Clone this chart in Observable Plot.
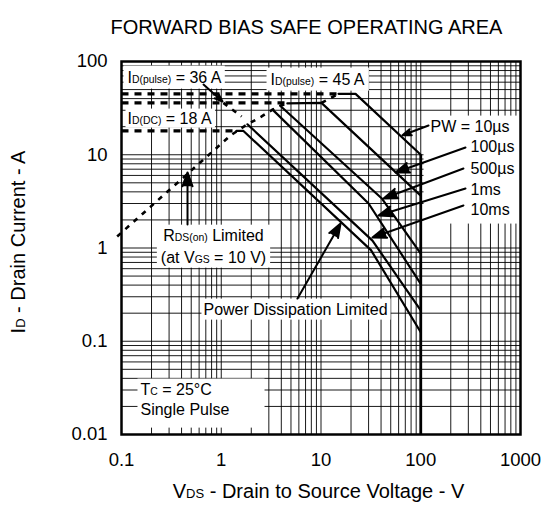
<!DOCTYPE html>
<html><head><meta charset="utf-8">
<script src="https://cdn.jsdelivr.net/npm/d3@7"></script>
<script src="https://cdn.jsdelivr.net/npm/@observablehq/plot@0.6"></script>
<style>body{margin:0;background:#fff;}</style>
</head><body><div id="chart"></div>
<script>
// ---- data ----
const xTicks = [0.1, 1, 10, 100, 1000];
const yTicks = [0.01, 0.1, 1, 10, 100];
const gridSteps = [1, 2, 3, 4, 5, 6, 7, 8, 9];
const xDecades = [0.1, 1, 10, 100];
const yDecades = [0.01, 0.1, 1, 10];

// SOA curves (V, A)
const curveNames = ["10µs", "100µs", "500µs", "1ms", "10ms", "DC"];
const curveV = [
  [15, 22.2, 100],
  [4.6, 10.1, 100],
  [3.9, 41, 100],
  [3.27, 30, 100],
  [1.83, 32.8, 100],
  [1.42, 1.67, 31.7, 100]
];
const curveI = [
  [45, 45, 10],
  [35.5, 36, 3.64],
  [33.5, 3.37, 0.87],
  [30.5, 3.0, 0.413],
  [21.2, 1.2, 0.214],
  [18, 18, 0.95, 0.125]
];
// drain-source breakdown limit
const bvV = [100, 100];
const bvI = [10, 0.01];

// current limits (dashed)
const limitNames = ["ID(pulse)=45A", "ID(pulse)=36A", "ID(DC)=18A"];
const limitI = [45, 36, 18];
const limitVStart = [0.1, 0.1, 0.1];
const limitVEnd = [15, 4.6, 1.42];

// RDS(on) limit (dashed)
const rdsSegs = ["rds", "rds", "rds", "rds", "rds", "rds", "rds", "link", "link", "lead", "lead"];
const rdsV = [0.0905, 1.24, 1.75, 2.5, 3.27, 3.9, 4.6, 10.1, 15, 1.05, 1.6];
const rdsI = [1.33, 16.1, 20.6, 25.5, 30.5, 33.5, 35.5, 36, 45, 36, 25.7];

// annotation arrows
const arrowX1 = [0.664, 0.459, 5.81, 119.7, 281, 268, 281, 268];
const arrowY1 = [56.6, 1.79, 0.287, 20.6, 11.97, 7.12, 4.35, 2.86];
const arrowX2 = [1.03, 0.459, 15.7, 65.6, 55.8, 42.4, 37.7, 32.8];
const arrowY2 = [37.2, 6.46, 1.83, 16.2, 6.46, 3.40, 2.23, 1.296];

// annotation labels
const startLabels = ["I{D(pulse)} = 36 A", "I{D(pulse)} = 45 A", "I{D(DC)} = 18 A", "PW = 10µs", "100µs", "500µs", "1ms", "10ms", "T{C} = 25°C", "Single Pulse"];
const startV = [0.1148, 3.12, 0.1148, 125.3, 315.6, 315.6, 315.6, 315.6, 0.155, 0.155];
const startI = [67.4, 64.1, 24.5, 20.1, 12.26, 7.12, 4.24, 2.59, 0.0304, 0.01854];
const startBox = ["b36", "b45", "b18", "bPW", "bPW", "bPW", "bPW", "bPW", "bTC", "bTC"];
const midLabels = ["R{DS(on)} Limited", "(at V{GS} = 10 V)", "Power Dissipation Limited"];
const midV = [0.836, 0.836, 5.55];
const midI = [1.36, 0.791, 0.219];
const midBox = ["bRDS", "bRDS", "bPD"];

const title = "FORWARD BIAS SAFE OPERATING AREA";
const xLabel = "V{DS} - Drain to Source Voltage - V";
const yLabel = "I{D} - Drain Current - A";

// ---- build tables ----
const gridX = xDecades.flatMap(d => gridSteps.map(s => s * d)).concat([1000]);
const gridY = yDecades.flatMap(d => gridSteps.map(s => s * d)).concat([100]);
const curveRows = curveNames.flatMap((n, k) => curveV[k].map((v, j) => ({curve: n, v, i: curveI[k][j]})));
const bvRows = bvV.map((v, j) => ({v, i: bvI[j]}));
const limitRows = limitNames.flatMap((n, k) => [{name: n, v: limitVStart[k], i: limitI[k]}, {name: n, v: limitVEnd[k], i: limitI[k]}]);
const rdsRows = rdsV.map((v, j) => ({seg: rdsSegs[j], v, i: rdsI[j]}));
const arrowRows = arrowX1.map((x1, j) => ({x1, y1: arrowY1[j], x2: arrowX2[j], y2: arrowY2[j]}));
const startRows = startLabels.map((t, j) => ({t, v: startV[j], i: startI[j], box: startBox[j]}));
const midRows = midLabels.map((t, j) => ({t, v: midV[j], i: midI[j], box: midBox[j]}));

const chart = Plot.plot({
  width: 546,
  height: 519,
  marginLeft: 121,
  marginRight: 26,
  marginTop: 61,
  marginBottom: 85,
  style: {fontFamily: "'Liberation Sans', Arial, sans-serif", fontSize: "16px", background: "#fff", color: "#000", overflow: "visible"},
  x: {type: "log", domain: [0.1, 1000], axis: null},
  y: {type: "log", domain: [0.01, 100], axis: null},
  marks: [
    Plot.ruleX(gridX, {x: d => d, stroke: "#000", strokeWidth: 1, strokeOpacity: 0.9}),
    Plot.ruleY(gridY, {y: d => d, stroke: "#000", strokeWidth: 1, strokeOpacity: 0.9}),
    Plot.frame({stroke: "#000", strokeWidth: 2.5}),
    Plot.line(limitRows, {x: "v", y: "i", z: "name", stroke: "#000", strokeWidth: 3.2, strokeDasharray: "7,6", strokeLinecap: "butt"}),
    Plot.line(rdsRows, {x: "v", y: "i", z: "seg", stroke: "#000", strokeWidth: 2.6, strokeDasharray: "5,6", strokeLinecap: "butt"}),
    Plot.line(curveRows, {x: "v", y: "i", z: "curve", stroke: "#000", strokeWidth: 2.2, strokeLinejoin: "miter"}),
    Plot.line(bvRows, {x: "v", y: "i", stroke: "#000", strokeWidth: 2.8, strokeLinecap: "butt"}),
    Plot.arrow(arrowRows, {x1: "x1", y1: "y1", x2: "x2", y2: "y2", stroke: "#000", fill: "#000", strokeWidth: 2, headLength: 11, headAngle: 40}),
    Plot.text(startRows, {x: "v", y: "i", text: "t", textAnchor: "start", fontSize: 16, fill: "#000"}),
    Plot.text(midRows, {x: "v", y: "i", text: "t", textAnchor: "middle", fontSize: 16, fill: "#000"}),
    Plot.text(xTicks, {x: d => d, text: d => String(d), frameAnchor: "bottom", dy: 31, fontSize: 18.5, fill: "#000"}),
    Plot.text(yTicks, {y: d => d, text: d => String(d), frameAnchor: "left", dx: -14, textAnchor: "end", fontSize: 18.5, fill: "#000"}),
    Plot.text([title], {frameAnchor: "top", dx: -14.5, dy: -42, fontSize: 20, textAnchor: "middle", fill: "#000"}),
    Plot.text([xLabel], {frameAnchor: "bottom", dx: -2.5, dy: 63, fontSize: 20, textAnchor: "middle", fill: "#000"}),
    Plot.text([yLabel], {frameAnchor: "left", dx: -102.5, dy: -6, rotate: -90, fontSize: 20, textAnchor: "middle", fill: "#000"})
  ]
});

document.getElementById("chart").append(chart);

// filled arrowheads (the head sub-path closes into a triangle when filled)
chart.querySelectorAll('g[aria-label="arrow"] path').forEach(p => p.setAttribute("fill", "#000"));

const NS = "http://www.w3.org/2000/svg";
const plain = s => s.replace(/[{}]/g, "");
const boxOf = new Map();
startRows.concat(midRows).forEach(r => boxOf.set(plain(r.t), r.box));

// padding (left, right, top, bottom) of the white label boxes
const pad = {b36: [4, 3, 3, 3], b45: [4, 4, 3, 3], b18: [2, 3, 1, 1], bPW: [7, 10, 2, 6], bRDS: [4, 4, 2, 2], bPD: [2, 3, 2, 2], bTC: [3, 35, 2, 10]};

// subscripts as smaller same-baseline text
chart.querySelectorAll("text").forEach(el => {
  const s = el.textContent;
  if (!s.includes("{")) return;
  el.textContent = "";
  s.split(/(\{[^}]*\})/).forEach(p => {
    if (!p) return;
    const ts = document.createElementNS(NS, "tspan");
    if (p.startsWith("{")) { ts.textContent = p.slice(1, -1); ts.style.fontSize = "65%"; }
    else ts.textContent = p;
    el.appendChild(ts);
  });
});

const sr = chart.getBoundingClientRect();
const boxes = {};
chart.querySelectorAll("text").forEach(el => {
  const name = boxOf.get(el.textContent);
  if (!name) return;
  const r = el.getBoundingClientRect();
  const b = boxes[name] || (boxes[name] = {x0: Infinity, y0: Infinity, x1: -Infinity, y1: -Infinity});
  b.x0 = Math.min(b.x0, r.left - sr.left);
  b.y0 = Math.min(b.y0, r.top - sr.top);
  b.x1 = Math.max(b.x1, r.right - sr.left);
  b.y1 = Math.max(b.y1, r.bottom - sr.top);
});

// insert boxes right after the two grid layers
const topLevel = Array.from(chart.children).filter(n => n.tagName.toLowerCase() === "g");
const anchor = topLevel[1];
Object.entries(boxes).forEach(([name, b]) => {
  const [l, r, t, bt] = pad[name];
  const rect = document.createElementNS(NS, "rect");
  rect.setAttribute("x", b.x0 - l);
  rect.setAttribute("y", b.y0 - t);
  rect.setAttribute("width", b.x1 - b.x0 + l + r);
  rect.setAttribute("height", b.y1 - b.y0 + t + bt);
  rect.setAttribute("fill", "#fff");
  chart.insertBefore(rect, anchor.nextSibling);
});
</script>
</body></html>
